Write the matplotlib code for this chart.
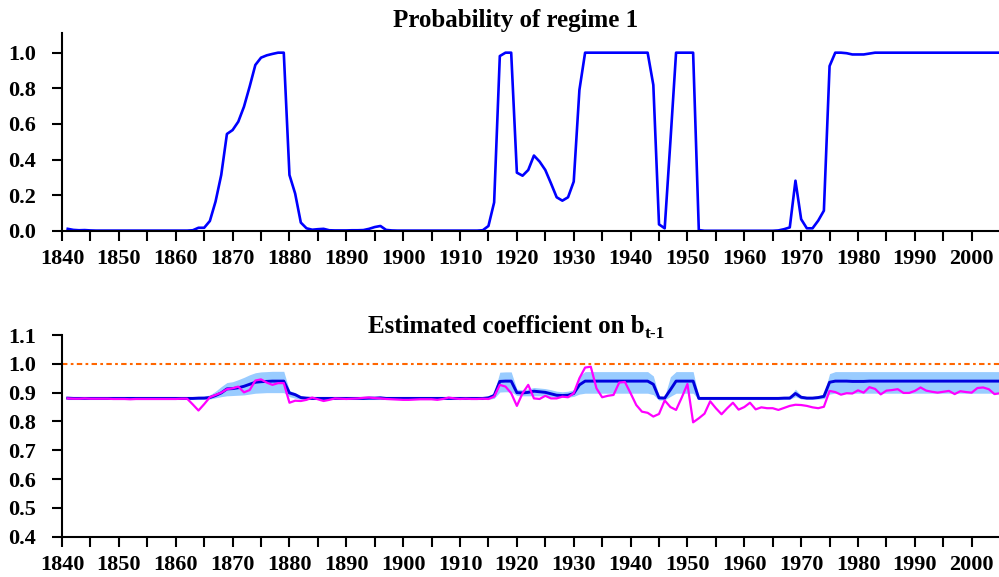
import numpy as np
import matplotlib
matplotlib.use('Agg')
import matplotlib.pyplot as plt
from matplotlib.ticker import MultipleLocator, FormatStrFormatter

plt.rcParams['font.family'] = ['Liberation Serif', 'DejaVu Serif']
plt.rcParams['font.weight'] = 'bold'

years = np.arange(1841, 2006)

# probability of regime 1 (top panel)
prob_regime1 = [
    0.012, 0.006, 0.004, 0.005, 0.003, 0.002, 0.002, 0.002, 0.002, 0.002,  # 1841-50
    0.002, 0.002, 0.002, 0.002, 0.002, 0.002, 0.002, 0.002, 0.002, 0.002,  # 1851-60
    0.002, 0.002, 0.004, 0.018, 0.018, 0.056, 0.165, 0.314, 0.544, 0.566,  # 1861-70
    0.613, 0.697, 0.810, 0.931, 0.972, 0.985, 0.993, 1.000, 1.000, 0.314,  # 1871-80
    0.210, 0.047, 0.015, 0.007, 0.010, 0.012, 0.004, 0.003, 0.003, 0.003,  # 1881-90
    0.004, 0.004, 0.005, 0.012, 0.022, 0.028, 0.006, 0.003, 0.002, 0.002,  # 1891-00
    0.002, 0.002, 0.002, 0.002, 0.002, 0.002, 0.002, 0.002, 0.002, 0.002,  # 1901-10
    0.002, 0.002, 0.002, 0.004, 0.028, 0.160, 0.981, 1.000, 1.000, 0.327,  # 1911-20
    0.310, 0.342, 0.423, 0.389, 0.342, 0.267, 0.189, 0.170, 0.189, 0.277,  # 1921-30
    0.791, 1.000, 1.000, 1.000, 1.000, 1.000, 1.000, 1.000, 1.000, 1.000,  # 1931-40
    1.000, 1.000, 1.000, 0.819, 0.037, 0.015, 0.500, 1.000, 1.000, 1.000,  # 1941-50
    1.000, 0.005, 0.001, 0.001, 0.001, 0.001, 0.001, 0.001, 0.001, 0.001,  # 1951-60
    0.001, 0.001, 0.001, 0.001, 0.001, 0.003, 0.010, 0.020, 0.282, 0.066,  # 1961-70
    0.015, 0.015, 0.058, 0.114, 0.925, 1.000, 1.000, 0.997, 0.990, 0.990,  # 1971-80
    0.990, 0.995, 1.000, 1.000, 1.000, 1.000, 1.000, 1.000, 1.000, 1.000,  # 1981-90
    1.000, 1.000, 1.000, 1.000, 1.000, 1.000, 1.000, 1.000, 1.000, 1.000,  # 1991-00
    1.000, 1.000, 1.000, 1.000, 1.000,                                     # 2001-05
]

# estimated coefficient on b(t-1): mean, band and rolling estimate
coef_mean = [
    0.881, 0.880, 0.880, 0.880, 0.880, 0.880, 0.880, 0.880, 0.880, 0.880,
    0.880, 0.880, 0.880, 0.880, 0.880, 0.880, 0.880, 0.880, 0.880, 0.880,
    0.880, 0.880, 0.880, 0.881, 0.881, 0.883, 0.890, 0.899, 0.913, 0.914,
    0.917, 0.922, 0.929, 0.936, 0.938, 0.939, 0.940, 0.940, 0.940, 0.899,
    0.893, 0.883, 0.881, 0.880, 0.880, 0.880, 0.880, 0.880, 0.880, 0.880,
    0.880, 0.880, 0.880, 0.881, 0.881, 0.882, 0.880, 0.880, 0.880, 0.880,
    0.880, 0.880, 0.880, 0.880, 0.880, 0.880, 0.880, 0.880, 0.880, 0.880,
    0.880, 0.880, 0.880, 0.880, 0.882, 0.890, 0.939, 0.940, 0.940, 0.900,
    0.899, 0.901, 0.905, 0.903, 0.901, 0.896, 0.891, 0.890, 0.891, 0.897,
    0.927, 0.940, 0.940, 0.940, 0.940, 0.940, 0.940, 0.940, 0.940, 0.940,
    0.940, 0.940, 0.940, 0.929, 0.882, 0.881, 0.910, 0.940, 0.940, 0.940,
    0.940, 0.880, 0.880, 0.880, 0.880, 0.880, 0.880, 0.880, 0.880, 0.880,
    0.880, 0.880, 0.880, 0.880, 0.880, 0.880, 0.881, 0.881, 0.897, 0.884,
    0.881, 0.881, 0.883, 0.887, 0.936, 0.940, 0.940, 0.940, 0.939, 0.939,
    0.939, 0.940, 0.940, 0.940, 0.940, 0.940, 0.940, 0.940, 0.940, 0.940,
    0.940, 0.940, 0.940, 0.940, 0.940, 0.940, 0.940, 0.940, 0.940, 0.940,
    0.940, 0.940, 0.940, 0.940, 0.940,
]

coef_lo = [
    0.876, 0.876, 0.876, 0.876, 0.876, 0.876, 0.876, 0.876, 0.876, 0.876,
    0.876, 0.876, 0.876, 0.876, 0.876, 0.876, 0.876, 0.876, 0.876, 0.876,
    0.876, 0.876, 0.876, 0.876, 0.877, 0.878, 0.882, 0.886, 0.889, 0.890,
    0.891, 0.892, 0.895, 0.898, 0.899, 0.900, 0.900, 0.900, 0.900, 0.886,
    0.881, 0.877, 0.876, 0.876, 0.876, 0.876, 0.876, 0.876, 0.876, 0.876,
    0.876, 0.876, 0.876, 0.876, 0.876, 0.876, 0.876, 0.876, 0.876, 0.876,
    0.876, 0.876, 0.876, 0.876, 0.876, 0.876, 0.876, 0.876, 0.876, 0.876,
    0.876, 0.876, 0.876, 0.876, 0.877, 0.880, 0.902, 0.903, 0.903, 0.890,
    0.889, 0.889, 0.889, 0.889, 0.888, 0.886, 0.884, 0.884, 0.884, 0.887,
    0.895, 0.898, 0.898, 0.898, 0.898, 0.898, 0.898, 0.898, 0.898, 0.898,
    0.898, 0.898, 0.898, 0.893, 0.874, 0.875, 0.887, 0.898, 0.898, 0.898,
    0.898, 0.876, 0.876, 0.876, 0.876, 0.876, 0.876, 0.876, 0.876, 0.876,
    0.876, 0.876, 0.876, 0.876, 0.876, 0.876, 0.876, 0.877, 0.886, 0.878,
    0.877, 0.877, 0.878, 0.879, 0.895, 0.898, 0.898, 0.898, 0.898, 0.898,
    0.898, 0.898, 0.898, 0.898, 0.898, 0.898, 0.898, 0.898, 0.898, 0.898,
    0.898, 0.898, 0.898, 0.898, 0.898, 0.898, 0.898, 0.898, 0.898, 0.898,
    0.898, 0.898, 0.898, 0.898, 0.898,
]

coef_hi = [
    0.885, 0.885, 0.885, 0.885, 0.885, 0.885, 0.885, 0.885, 0.885, 0.885,
    0.885, 0.885, 0.885, 0.885, 0.885, 0.885, 0.885, 0.885, 0.885, 0.885,
    0.885, 0.885, 0.885, 0.887, 0.888, 0.892, 0.905, 0.921, 0.935, 0.938,
    0.945, 0.953, 0.962, 0.969, 0.972, 0.973, 0.974, 0.974, 0.974, 0.907,
    0.900, 0.888, 0.886, 0.885, 0.885, 0.885, 0.885, 0.885, 0.885, 0.885,
    0.885, 0.885, 0.885, 0.886, 0.886, 0.887, 0.885, 0.885, 0.885, 0.885,
    0.885, 0.885, 0.885, 0.885, 0.885, 0.885, 0.885, 0.885, 0.885, 0.885,
    0.885, 0.885, 0.885, 0.885, 0.888, 0.900, 0.971, 0.972, 0.972, 0.912,
    0.910, 0.913, 0.918, 0.916, 0.914, 0.910, 0.905, 0.903, 0.905, 0.910,
    0.958, 0.973, 0.973, 0.973, 0.973, 0.973, 0.973, 0.973, 0.973, 0.973,
    0.973, 0.973, 0.973, 0.958, 0.888, 0.887, 0.955, 0.973, 0.973, 0.973,
    0.973, 0.885, 0.885, 0.885, 0.885, 0.885, 0.885, 0.885, 0.885, 0.885,
    0.885, 0.885, 0.885, 0.885, 0.885, 0.885, 0.887, 0.888, 0.912, 0.890,
    0.887, 0.887, 0.889, 0.895, 0.966, 0.973, 0.973, 0.973, 0.973, 0.973,
    0.973, 0.973, 0.973, 0.973, 0.973, 0.973, 0.973, 0.973, 0.973, 0.973,
    0.973, 0.973, 0.973, 0.973, 0.973, 0.973, 0.973, 0.973, 0.973, 0.973,
    0.973, 0.973, 0.973, 0.973, 0.973,
]

coef_rolling = [
    0.880, 0.879, 0.879, 0.880, 0.879, 0.879, 0.879, 0.879, 0.878, 0.878,  # 1841-50
    0.878, 0.877, 0.878, 0.878, 0.878, 0.878, 0.878, 0.878, 0.878, 0.878,  # 1851-60
    0.879, 0.879, 0.859, 0.838, 0.860, 0.884, 0.892, 0.900, 0.912, 0.915,  # 1861-70
    0.921, 0.901, 0.909, 0.942, 0.946, 0.935, 0.927, 0.933, 0.933, 0.865,  # 1871-80
    0.872, 0.871, 0.875, 0.883, 0.877, 0.871, 0.875, 0.880, 0.879, 0.878,  # 1881-90
    0.879, 0.880, 0.882, 0.883, 0.881, 0.880, 0.878, 0.877, 0.876, 0.875,  # 1891-00
    0.875, 0.876, 0.877, 0.877, 0.877, 0.875, 0.878, 0.883, 0.880, 0.878,  # 1901-10
    0.879, 0.878, 0.878, 0.879, 0.878, 0.886, 0.927, 0.921, 0.898, 0.854,  # 1911-20
    0.898, 0.927, 0.880, 0.878, 0.889, 0.880, 0.880, 0.886, 0.884, 0.898,  # 1921-30
    0.950, 0.987, 0.990, 0.915, 0.884, 0.889, 0.892, 0.935, 0.937, 0.898,  # 1931-40
    0.857, 0.834, 0.830, 0.817, 0.826, 0.873, 0.850, 0.840, 0.883, 0.930,  # 1941-50
    0.797, 0.811, 0.827, 0.870, 0.846, 0.825, 0.846, 0.865, 0.841, 0.850,  # 1951-60
    0.865, 0.842, 0.849, 0.846, 0.846, 0.840, 0.847, 0.854, 0.858, 0.857,  # 1961-70
    0.854, 0.849, 0.846, 0.851, 0.906, 0.902, 0.893, 0.898, 0.897, 0.908,  # 1971-80
    0.900, 0.919, 0.913, 0.894, 0.907, 0.909, 0.912, 0.899, 0.899, 0.906,  # 1981-90
    0.918, 0.907, 0.903, 0.900, 0.903, 0.906, 0.895, 0.905, 0.902, 0.900,  # 1991-00
    0.916, 0.918, 0.912, 0.895, 0.898,                                     # 2001-05
]

unit_root = 1.0


def style_axis(ax, ymin, ymax, ystep):
    ax.set_xlim(1840, 2004.8)
    ax.set_ylim(ymin, ymax)
    ax.spines['top'].set_visible(False)
    ax.spines['right'].set_visible(False)
    ax.spines['left'].set_linewidth(1.5)
    ax.spines['bottom'].set_linewidth(1.5)
    ax.xaxis.set_major_locator(MultipleLocator(10))
    ax.xaxis.set_minor_locator(MultipleLocator(5))
    ax.yaxis.set_major_locator(MultipleLocator(ystep))
    ax.yaxis.set_major_formatter(FormatStrFormatter('%.1f'))
    ax.tick_params(axis='both', which='both', direction='out', length=7,
                   width=1.5, labelsize=16)
    ax.tick_params(axis='x', pad=6)
    ax.tick_params(axis='y', pad=12)
    for lab in ax.get_xticklabels() + ax.get_yticklabels():
        lab.set_fontweight('bold')


fig = plt.figure(figsize=(9.99, 5.77), dpi=100)

# top panel
ax1 = fig.add_axes([0.0621, 0.5997, 0.9379, 0.343])
ax1.plot(years, prob_regime1, color='#0000ff', linewidth=1.9)
style_axis(ax1, 0, 1.11, 0.2)
ax1.set_yticks(np.arange(0, 1.01, 0.2))

# bottom panel
ax2 = fig.add_axes([0.0621, 0.0698, 0.9379, 0.3496])
ax2.fill_between(years, coef_lo, coef_hi, color='#99ccff', linewidth=0)
ax2.axhline(unit_root, color='#ff6600', linewidth=1.5,
            linestyle=(0, (2.6, 1.6, 1.3, 1.6)))
ax2.plot(years, coef_mean, color='#0000dd', linewidth=2.1)
ax2.plot(years, coef_rolling, color='#ff00ff', linewidth=1.6)
style_axis(ax2, 0.4, 1.1, 0.1)
ax2.set_yticks(np.arange(0.4, 1.101, 0.1))

# titles
fig.text(515.5 / 999, 1 - 27 / 577, 'Probability of regime 1', ha='center',
         va='baseline', fontsize=18, fontweight='bold')
t_main = fig.text(0, 1 - 333 / 577, 'Estimated coefficient on b',
                  ha='left', va='baseline', fontsize=18, fontweight='bold')
t_sub = fig.text(0, 1 - 338 / 577, 't-1', ha='left', va='baseline',
                 fontsize=12.5, fontweight='bold')
fig.canvas.draw()
r = fig.canvas.get_renderer()
w_main = t_main.get_window_extent(r).width
w_sub = t_sub.get_window_extent(r).width
x0 = 516 - (w_main + w_sub) / 2
t_main.set_x(x0 / 999)
t_sub.set_x((x0 + w_main + 1) / 999)

fig.savefig('out.png', dpi=100)
